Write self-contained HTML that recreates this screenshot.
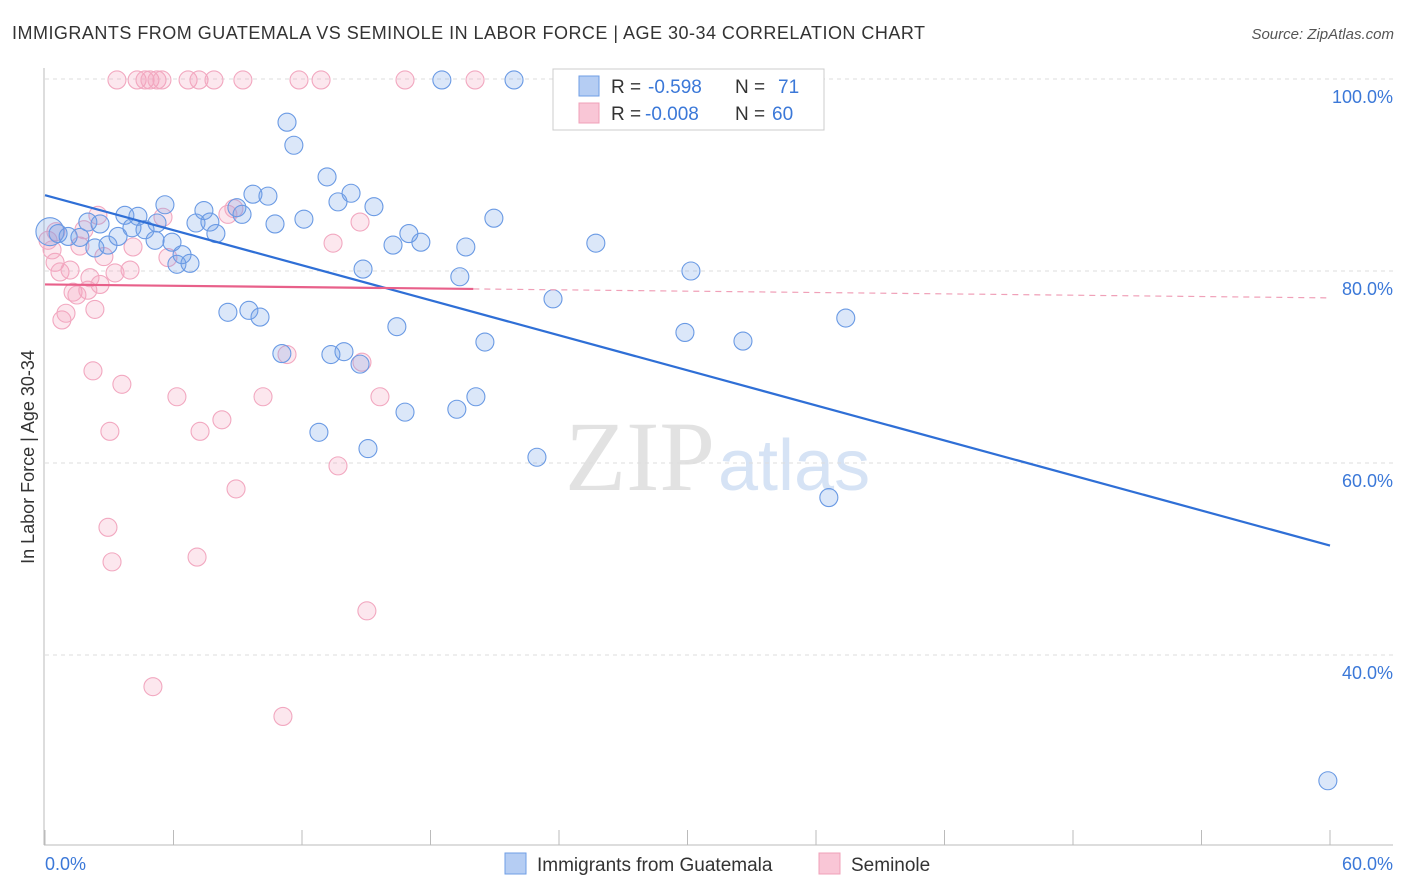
<!DOCTYPE html>
<html><head><meta charset="utf-8"><style>
body{margin:0;background:#fff;font-family:"Liberation Sans",sans-serif}
svg{display:block}
</style></head><body>
<svg id="c" width="1406" height="892">
<text x="12" y="39" font-size="18" textLength="913" fill="#333">IMMIGRANTS FROM GUATEMALA VS SEMINOLE IN LABOR FORCE | AGE 30-34 CORRELATION CHART</text>
<text x="1394" y="39" font-size="15" fill="#555" font-style="italic" text-anchor="end">Source: ZipAtlas.com</text>
<text x="715" y="490" font-size="100" fill="#e2e2e2" text-anchor="end" font-family="Liberation Serif,serif">ZIP</text>
<text x="718" y="490" font-size="72" fill="#d6e3f5">atlas</text>
<g id="grid"></g><g id="axes"></g><g id="pts"></g><g id="lines"></g>
<text transform="translate(34,457) rotate(-90)" font-size="18" fill="#333" text-anchor="middle">In Labor Force | Age 30-34</text>
<text x="45" y="870" font-size="18" fill="#3b78d8">0.0%</text>
<text x="1393" y="870" font-size="18" fill="#3b78d8" text-anchor="end">60.0%</text>
<g>
<rect x="553" y="69" width="271" height="61" fill="#fff" stroke="#ccc"/>
<rect x="579" y="76" width="20" height="20" fill="#b5cdf3" stroke="#6f9ee6"/>
<rect x="579" y="103" width="20" height="20" fill="#f9c6d6" stroke="#f0a0b8"/>
<text x="611" y="93" font-size="19" fill="#333">R =</text>
<text x="648" y="93" font-size="19" fill="#3b78d8">-0.598</text>
<text x="735" y="93" font-size="19" fill="#333">N =</text>
<text x="778" y="93" font-size="19" fill="#3b78d8">71</text>
<text x="611" y="120" font-size="19" fill="#333">R =</text>
<text x="645" y="120" font-size="19" fill="#3b78d8">-0.008</text>
<text x="735" y="120" font-size="19" fill="#333">N =</text>
<text x="772" y="120" font-size="19" fill="#3b78d8">60</text>
</g>
<g>
<rect x="505" y="853" width="21" height="21" fill="#b5cdf3" stroke="#6f9ee6"/>
<text x="537" y="871" font-size="19" fill="#333">Immigrants from Guatemala</text>
<rect x="819" y="853" width="21" height="21" fill="#f9c6d6" stroke="#f0a0b8"/>
<text x="851" y="871" font-size="19" fill="#333">Seminole</text>
</g>
</svg>
<script>
const blueX=[0.23,0.61,1.08,1.63,2.0,2.33,2.57,2.94,3.41,3.73,4.06,4.34,4.67,5.14,5.23,5.6,5.93,6.16,6.77,6.4,7.05,7.42,7.7,7.98,8.54,8.96,9.2,9.52,9.71,10.04,10.41,10.74,11.06,11.3,11.62,12.09,12.79,13.17,13.35,13.68,13.96,14.29,14.71,14.85,15.08,15.36,16.25,16.43,16.81,16.99,17.55,18.53,19.23,19.37,19.65,20.12,20.54,20.96,21.9,22.97,23.72,25.72,29.88,30.16,32.59,36.6,37.39,59.9];
const blueY=[84.1,83.9,83.6,83.5,85.1,82.4,84.9,82.7,83.6,85.8,84.5,85.7,84.3,83.2,85.0,86.9,83.0,80.7,80.8,81.7,85.0,86.3,85.1,83.9,75.7,86.6,85.9,75.9,88.0,75.2,87.8,84.9,71.4,95.5,93.1,85.4,63.2,89.8,71.3,87.2,71.6,88.1,70.3,80.2,61.5,86.7,82.7,74.2,65.3,83.9,83.0,99.9,65.6,79.4,82.5,66.9,72.6,85.5,99.9,60.6,77.1,82.9,73.6,80.0,72.7,56.4,75.1,26.9];
const pinkX=[3.36,4.3,4.67,4.9,5.23,5.46,6.68,7.19,7.89,9.24,11.86,12.89,16.81,20.08,0.14,0.33,0.47,0.7,0.79,0.98,1.17,1.31,1.49,1.63,1.82,2.0,2.1,2.33,2.47,2.57,2.75,3.03,2.94,3.13,3.27,3.59,3.97,4.11,5.04,5.51,5.74,6.16,7.1,7.24,8.26,8.54,8.82,8.92,10.18,11.11,11.3,13.45,13.68,14.71,14.8,15.03,15.64,2.24,0.51];
const pinkY=[99.9,99.9,99.9,99.9,99.9,99.9,99.9,99.9,99.9,99.9,99.9,99.9,99.9,99.9,83.2,82.2,80.9,79.9,74.9,75.6,80.1,77.8,77.5,82.6,84.3,78.0,79.3,76.0,85.8,78.6,81.5,63.3,53.3,49.7,79.8,68.2,80.1,82.5,36.7,85.6,81.4,66.9,50.2,63.3,64.5,85.9,86.5,57.3,66.9,33.6,71.3,82.9,59.7,85.1,70.5,44.6,66.9,69.6,84.1];
const yTicks=[100,80,60,40];
const blueTrend=[87.9,51.4];
const pinkTrend=[78.6,77.2];
const NS="http://www.w3.org/2000/svg";
const sx=v=>45+v*(1285/60), sy=v=>79+(100-v)*9.6;
function mk(t,a,p){const e=document.createElementNS(NS,t);for(const k in a)e.setAttribute(k,a[k]);document.getElementById(p).appendChild(e);return e;}
yTicks.forEach(t=>{
 const l=mk('line',{x1:45,x2:1393,y1:sy(t),y2:sy(t),stroke:'#ddd','stroke-dasharray':'4,4'},'grid');
 
 
 const tx=mk('text',{x:1393,y:sy(t)+24,'font-size':18,fill:'#3b78d8','text-anchor':'end'},'grid');
 tx.textContent=t.toFixed(1)+'%';
 
 
});
mk('line',{x1:44,x2:44,y1:68,y2:845,stroke:'#bbb'},'axes');
mk('line',{x1:44,x2:1393,y1:845,y2:845,stroke:'#bbb'},'axes');
for(let i=0;i<=10;i++){const x=sx(i*6);mk('line',{x1:x,x2:x,y1:830,y2:845,stroke:'#bbb'},'axes');}
function dots(X,Y,fill,stroke,name){X.forEach((x,i)=>{
 const c=mk('circle',{cx:sx(x),cy:sy(Y[i]),r:(i==0&&name=='blue-point')?14:9,fill:fill,stroke:stroke,'stroke-width':1.1},'pts');
 
 
});}
dots(pinkX,pinkY,'rgba(243,160,188,0.25)','#f2a8c0','pink-point');
dots(blueX,blueY,'rgba(110,158,230,0.25)','#6a9ae4','blue-point');
const bl=mk('line',{x1:sx(0),y1:sy(blueTrend[0]),x2:sx(60),y2:sy(blueTrend[1]),stroke:'#2f6fd6','stroke-width':2.2},'lines');


const pm=pinkTrend[0]+(pinkTrend[1]-pinkTrend[0])*20/60;
const pl=mk('line',{x1:sx(0),y1:sy(pinkTrend[0]),x2:sx(20),y2:sy(pm),stroke:'#e8608a','stroke-width':2.2},'lines');


const pd=mk('line',{x1:sx(20),y1:sy(pm),x2:sx(60),y2:sy(pinkTrend[1]),stroke:'#f0a0b8','stroke-width':1.2,'stroke-dasharray':'6,5'},'lines');


</script>
</body></html>
